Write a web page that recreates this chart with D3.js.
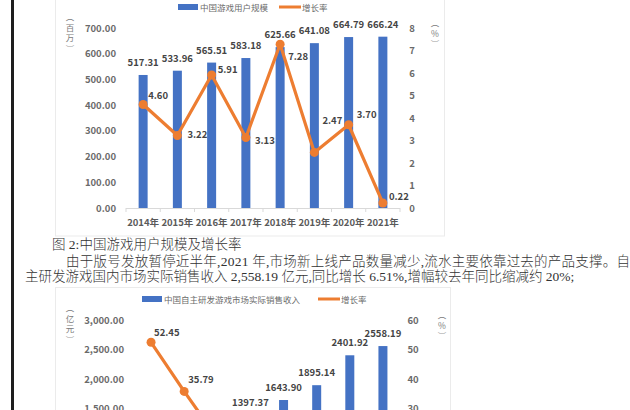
<!DOCTYPE html>
<html>
<head>
<meta charset="utf-8">
<script src="https://cdn.jsdelivr.net/npm/d3@7"></script>
<style>
  body { margin: 0; background: #fff; }
  svg { display: block; }
</style>
</head>
<body>
<svg width="630" height="410"></svg>
<script>
// chart data
const years = ['2014年', '2015年', '2016年', '2017年', '2018年', '2019年', '2020年', '2021年'];
const users = [517.31, 533.96, 565.51, 583.18, 625.66, 641.08, 664.79, 666.24];
const userGrowth = [4.60, 3.22, 5.91, 3.13, 7.28, 2.47, 3.70, 0.22];
const revenue = [726.55, 986.70, 1182.50, 1397.37, 1643.90, 1895.14, 2401.92, 2558.19];
const revenueGrowth = [52.45, 35.79, 19.90, 18.17, 17.64, 15.28, 26.74, 6.51];
const userTicks = [0, 100, 200, 300, 400, 500, 600, 700];
const pctTicks1 = [0, 1, 2, 3, 4, 5, 6, 7, 8];
const revenueTicks = [0, 500, 1000, 1500, 2000, 2500, 3000];
const pctTicks2 = [0, 10, 20, 30, 40, 50, 60];

const blue = '#4472c4', orange = '#ed7d31';
const chartFont = '"Noto Sans CJK SC", "Noto Sans", sans-serif';
const bodyFont = '"Liberation Serif", "Noto Sans CJK SC", serif';

const svg = d3.select('svg');

// page edge + panels
svg.append('rect').attr('x', 11).attr('y', 0).attr('width', 3).attr('height', 410).attr('fill', '#1e1e1e');
svg.append('rect').attr('x', 55.5).attr('y', -5).attr('width', 389).attr('height', 241)
  .attr('fill', '#fff').attr('stroke', '#ebebeb');
svg.append('rect').attr('x', 55.5).attr('y', 287.5).attr('width', 395).attr('height', 140)
  .attr('fill', '#fff').attr('stroke', '#ebebeb');

// stacked vertical unit label
function vertLabel(x, y, chars) {
  const t = svg.append('g').attr('font-family', chartFont).attr('font-size', 8.5)
    .attr('fill', '#7a7a7a').attr('text-anchor', 'middle');
  chars.forEach((c, i) => {
    t.append('text').attr('x', x).attr('y', y + i * 10.5).text(c);
  });
}

function drawChart(opt) {
  const x = d3.scalePoint().domain(years).range(opt.xRange).padding(0.5);
  const yL = d3.scaleLinear().domain(opt.leftDomain).range(opt.yRange);
  const yR = d3.scaleLinear().domain(opt.rightDomain).range(opt.yRange);
  const g = svg.append('g').attr('font-family', chartFont);

  // left axis labels
  g.append('g').attr('transform', `translate(${opt.leftX},0)`)
    .call(d3.axisLeft(yL).tickValues(opt.leftTicks).tickFormat(opt.leftFmt).tickSize(0).tickPadding(0))
    .call(a => a.select('.domain').remove())
    .selectAll('text').attr('font-size', 9.5).attr('font-weight', 'bold').attr('fill', '#6a6a6a')
    .attr('font-family', chartFont);

  // right axis labels
  g.append('g').attr('transform', `translate(${opt.rightX},0)`)
    .call(d3.axisRight(yR).tickValues(opt.rightTicks).tickSize(0).tickPadding(0))
    .call(a => a.select('.domain').remove())
    .selectAll('text').attr('font-size', 9.5).attr('font-weight', 'bold').attr('fill', '#6a6a6a')
    .attr('text-anchor', 'middle').attr('font-family', chartFont);

  // category axis
  const step = x.step();
  const base = yL(0);
  g.append('line').attr('x1', opt.xRange[0]).attr('x2', opt.xRange[1])
    .attr('y1', base + 0.5).attr('y2', base + 0.5).attr('stroke', '#d9d9d9');
  g.selectAll('.tk').data(d3.range(years.length + 1)).join('line')
    .attr('x1', i => opt.xRange[0] + i * step).attr('x2', i => opt.xRange[0] + i * step)
    .attr('y1', base).attr('y2', base + 4).attr('stroke', '#d9d9d9');
  g.selectAll('.yr').data(years).join('text')
    .attr('x', d => x(d)).attr('y', base + 18)
    .attr('text-anchor', 'middle').attr('font-size', 9.5).attr('font-weight', 'bold')
    .attr('fill', '#5a5a5a').text(d => d);

  // bars
  g.selectAll('.bar').data(opt.bars).join('rect')
    .attr('x', (d, i) => x(years[i]) - 4.5).attr('width', 9)
    .attr('y', d => yL(d)).attr('height', d => yL(0) - yL(d))
    .attr('fill', blue);
  g.selectAll('.bl').data(opt.bars).join('text')
    .attr('x', (d, i) => x(years[i])).attr('y', d => yL(d) - 9)
    .attr('text-anchor', 'middle').attr('font-size', 9.5).attr('font-weight', 'bold')
    .attr('fill', '#444').text(d => d.toFixed(2));

  // growth line
  const line = d3.line().x((d, i) => x(years[i])).y(d => yR(d));
  g.append('path').datum(opt.line).attr('d', line)
    .attr('fill', 'none').attr('stroke', orange).attr('stroke-width', 3.2)
    .attr('stroke-linejoin', 'round');
  g.selectAll('.pt').data(opt.line).join('circle')
    .attr('cx', (d, i) => x(years[i])).attr('cy', d => yR(d)).attr('r', 4.5)
    .attr('fill', orange);
  g.selectAll('.pl').data(opt.line).join('text')
    .attr('x', (d, i) => x(years[i]) + opt.lineLab[i][0])
    .attr('y', (d, i) => yR(d) + opt.lineLab[i][1])
    .attr('font-size', 9.5).attr('font-weight', 'bold')
    .attr('fill', '#444').text(d => d.toFixed(2));

  // legend
  const lg = opt.legend;
  g.append('rect').attr('x', lg.x).attr('y', lg.y - 3).attr('width', 20).attr('height', 6).attr('fill', blue);
  g.append('text').attr('x', lg.x + 22).attr('y', lg.y + 3.5).attr('font-size', 8.5)
    .attr('fill', '#6a6a6a').text(lg.barName);
  g.append('line').attr('x1', lg.x2).attr('x2', lg.x2 + 22).attr('y1', lg.y).attr('y2', lg.y)
    .attr('stroke', orange).attr('stroke-width', 3);
  g.append('text').attr('x', lg.x2 + 23).attr('y', lg.y + 3.5).attr('font-size', 8.5)
    .attr('fill', '#6a6a6a').text('增长率');
}

drawChart({
  xRange: [126, 400], yRange: [208, 28],
  leftDomain: [0, 700], rightDomain: [0, 8],
  leftTicks: userTicks, rightTicks: pctTicks1, leftFmt: d3.format('.2f'),
  leftX: 116, rightX: 412,
  bars: users, line: userGrowth,
  lineLab: [[5, -6], [10, 2], [6, -2], [9, 6], [8, 16], [8, -28], [8, -7], [6, -3]],
  legend: { x: 178, y: 7, x2: 279, barName: '中国游戏用户规模' }
});

drawChart({
  xRange: [134.5, 399.5], yRange: [497, 320],
  leftDomain: [0, 3000], rightDomain: [0, 60],
  leftTicks: revenueTicks, rightTicks: pctTicks2, leftFmt: d3.format(',.2f'),
  leftX: 124, rightX: 413,
  bars: revenue, line: revenueGrowth,
  lineLab: [[3, -6], [4, -8], [6, -6], [6, -6], [6, -6], [6, -6], [6, 12], [6, 12]],
  legend: { x: 142, y: 299, x2: 318, barName: '中国自主研发游戏市场实际销售收入' }
});

vertLabel(70, 20, ['︵', '百', '万', '︶']);
vertLabel(435, 26, ['︵', '%', '︶']);
vertLabel(70, 311, ['︵', '亿', '元', '︶']);
vertLabel(442, 318, ['︵', '%', '︶']);

// body text
const body = svg.append('g').attr('font-family', bodyFont).attr('font-size', 13.5)
  .attr('fill', '#333').attr('font-weight', 300);
body.append('text').attr('x', 52).attr('y', 249).text('图 2:中国游戏用户规模及增长率');
body.append('text').attr('x', 66).attr('y', 266).attr('textLength', 564).attr('lengthAdjust', 'spacing')
  .text('由于版号发放暂停近半年,2021 年,市场新上线产品数量减少,流水主要依靠过去的产品支撑。自');
body.append('text').attr('x', 25).attr('y', 281)
  .text('主研发游戏国内市场实际销售收入 2,558.19 亿元,同比增长 6.51%,增幅较去年同比缩减约 20%;');
</script>
</body>
</html>
